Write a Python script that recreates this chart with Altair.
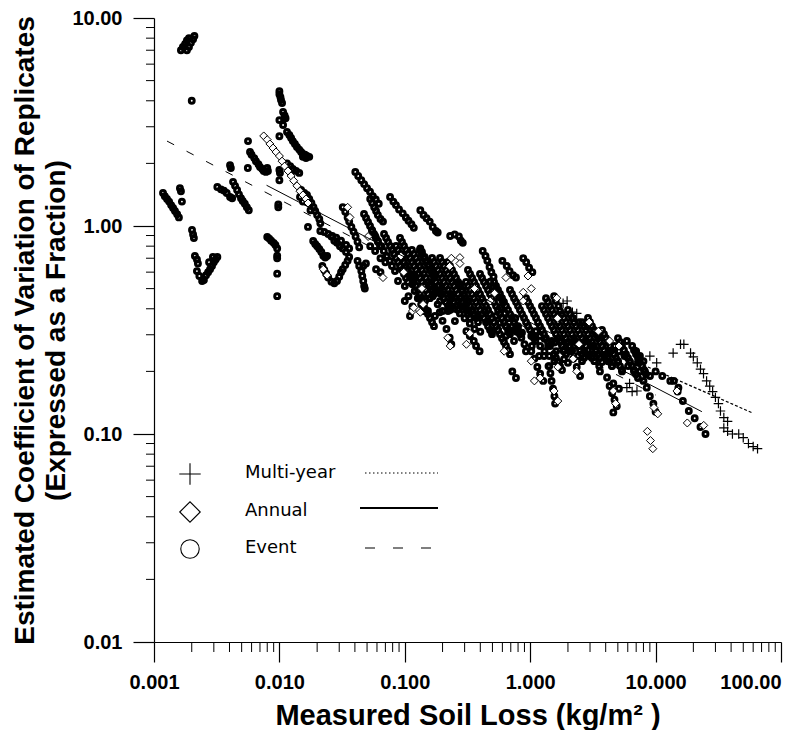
import json
import altair as alt
import pandas as pd

# ---------------- data ----------------
event_points = [
    (0.00164, 7.0), (0.0017, 7.25), (0.00177, 7.5), (0.00183, 7.8), (0.0019, 8.0),
    (0.00183, 7.0), (0.0019, 7.25), (0.00197, 7.6), (0.00205, 7.9), (0.0021, 8.2),
    (0.002, 4.0),
    (0.00118, 1.44), (0.00122, 1.39), (0.00127, 1.35), (0.00132, 1.31), (0.00137, 1.26),
    (0.00142, 1.22), (0.00147, 1.18), (0.00153, 1.14), (0.00158, 1.10),
    (0.00161, 1.52), (0.00164, 1.47), (0.00167, 1.31),
    (0.00201, 0.957), (0.00205, 0.91), (0.00208, 0.876),
    (0.00212, 0.717), (0.0022, 0.69), (0.00224, 0.66), (0.0022, 0.607), (0.0023, 0.575),
    (0.00242, 0.544), (0.0025, 0.55), (0.0026, 0.58), (0.0027, 0.60), (0.0028, 0.62),
    (0.0029, 0.642), (0.003, 0.67), (0.0031, 0.69), (0.0032, 0.71), (0.00295, 0.71), (0.00275, 0.67),
    (0.00404, 1.96), (0.0041, 1.9),
    (0.0032, 1.54), (0.00342, 1.5), (0.00361, 1.48), (0.0038, 1.44), (0.00404, 1.38), (0.0042, 1.36),
    (0.00427, 1.63), (0.00443, 1.56), (0.0046, 1.49), (0.00476, 1.42), (0.00494, 1.36),
    (0.0051, 1.32), (0.0053, 1.28), (0.0055, 1.23), (0.0057, 1.19),
    (0.00562, 2.56), (0.00583, 2.27), (0.006, 2.2), (0.0063, 2.12), (0.0065, 2.05), (0.0068, 1.98),
    (0.007, 1.92), (0.0073, 1.88), (0.0075, 1.84), (0.0078, 1.82), (0.0081, 1.84), (0.008, 1.9),
    (0.0056, 1.9),
    (0.01, 4.45), (0.01, 4.3), (0.0102, 4.16), (0.0103, 4.03), (0.0105, 3.9), (0.0107, 3.53),
    (0.011, 3.4), (0.0112, 3.3), (0.01, 3.23), (0.0107, 3.06), (0.01, 2.7), (0.01, 1.86),
    (0.0101, 1.8), (0.01, 1.66), (0.0098, 1.23), (0.0098, 1.27),
    (0.008, 0.885), (0.0083, 0.87), (0.0086, 0.85), (0.009, 0.83), (0.0093, 0.81), (0.0096, 0.78),
    (0.0096, 0.72), (0.0096, 0.70), (0.0096, 0.59), (0.0096, 0.46),
    (0.0115, 2.83), (0.012, 2.74), (0.0124, 2.65), (0.0128, 2.56), (0.0133, 2.48), (0.0138, 2.4),
    (0.0144, 2.33), (0.0149, 2.27), (0.0154, 2.22), (0.016, 2.2), (0.0166, 2.17), (0.0173, 2.15),
    (0.0163, 2.12), (0.0154, 2.15),
    (0.0115, 2.0), (0.0122, 1.94), (0.0128, 1.88), (0.0136, 1.84), (0.0144, 1.8),
    (0.0166, 1.41), (0.0173, 1.35), (0.018, 1.29), (0.0187, 1.23), (0.0193, 1.18), (0.02, 1.13),
    (0.0208, 1.08), (0.0212, 1.03), (0.0177, 1.19), (0.0169, 0.99),
    (0.0186, 0.847), (0.0193, 0.82), (0.02, 0.8), (0.0208, 0.775), (0.0216, 0.75), (0.0224, 0.72),
    (0.0232, 0.705), (0.024, 0.717),
    (0.0212, 0.946), (0.0228, 0.935), (0.0245, 0.915), (0.0264, 0.895), (0.0284, 0.878),
    (0.026, 0.89), (0.0274, 0.85), (0.0288, 0.83), (0.0304, 0.80), (0.032, 0.78), (0.034, 0.75),
    (0.036, 0.78), (0.034, 0.81), (0.031, 0.85),
    (0.022, 0.642), (0.0228, 0.614), (0.0236, 0.59), (0.0245, 0.565), (0.026, 0.54), (0.0274, 0.53),
    (0.0288, 0.544), (0.03, 0.57), (0.031, 0.6), (0.032, 0.62), (0.0335, 0.65), (0.035, 0.68), (0.036, 0.71),
    (0.032, 1.23), (0.0335, 1.17), (0.035, 1.1), (0.036, 1.05), (0.0375, 0.99), (0.039, 0.94),
    (0.0405, 0.89), (0.042, 0.84), (0.0433, 0.79),
    (0.042, 0.68), (0.0433, 0.642), (0.045, 0.607), (0.0458, 0.575), (0.0466, 0.544), (0.0474, 0.514),
    (0.048, 0.5), (0.0466, 0.642), (0.049, 0.66),
    (0.053, 1.35), (0.055, 1.29), (0.057, 1.23), (0.059, 1.18), (0.061, 1.13), (0.064, 1.08), (0.067, 1.05),
    (0.0403, 1.82), (0.0425, 1.74), (0.045, 1.66), (0.0474, 1.59), (0.05, 1.52), (0.0528, 1.46),
    (0.0556, 1.39), (0.0587, 1.34), (0.062, 1.28),
    (0.0149, 1.49), (0.0158, 1.44), (0.0163, 1.36), (0.0146, 1.38), (0.0154, 1.31),
    (0.0763, 1.38), (0.081, 1.31), (0.085, 1.26), (0.09, 1.2), (0.0963, 1.15), (0.102, 1.1),
    (0.107, 1.06), (0.113, 1.02), (0.118, 0.98),
    (0.133, 1.19), (0.141, 1.13), (0.149, 1.09), (0.158, 1.05), (0.167, 0.99), (0.177, 0.946), (0.183, 0.93),
    (0.23, 0.895), (0.25, 0.91), (0.27, 0.89), (0.28, 0.85), (0.29, 0.83),
    (0.133, 0.78), (0.137, 0.75), (0.144, 0.71), (0.149, 0.68), (0.155, 0.65), (0.16, 0.62),
    (0.167, 0.6), (0.173, 0.575),
    (0.055, 0.946), (0.058, 0.895), (0.061, 0.847), (0.065, 0.80), (0.068, 0.758), (0.072, 0.717),
    (0.076, 0.68), (0.079, 0.642), (0.07, 0.67), (0.064, 0.70), (0.058, 0.758), (0.053, 0.80),
    (0.059, 0.62), (0.064, 0.6),
    (0.418, 0.758), (0.44, 0.717), (0.455, 0.68), (0.474, 0.635), (0.49, 0.6), (0.51, 0.57),
    (0.6, 0.68), (0.65, 0.642), (0.685, 0.607), (0.73, 0.58), (0.77, 0.565),
    (0.88, 0.70), (0.93, 0.67), (0.98, 0.63), (1.04, 0.6),
    (0.48, 0.54), (0.51, 0.51), (0.54, 0.48), (0.57, 0.455), (0.6, 0.436),
    (0.275, 0.525), (0.287, 0.487), (0.30, 0.45), (0.31, 0.42), (0.323, 0.39), (0.33, 0.36),
    (1.55, 0.46), (1.6, 0.436), (1.68, 0.412), (1.73, 0.39),
    (0.093, 0.717), (0.098, 0.67), (0.103, 0.614), (0.11, 0.57), (0.115, 0.525), (0.12, 0.487),
    (0.127, 0.45), (0.135, 0.42), (0.14, 0.39), (0.107, 0.46), (0.1, 0.514), (0.115, 0.41),
    (0.16, 0.525), (0.173, 0.5), (0.19, 0.475), (0.205, 0.45), (0.228, 0.42), (0.25, 0.4),
    (0.275, 0.38), (0.3, 0.36), (0.33, 0.34), (0.36, 0.32), (0.4, 0.31), (0.167, 0.46),
    (0.183, 0.42), (0.2, 0.39), (0.187, 0.514), (0.205, 0.487), (0.236, 0.46),
    (0.19, 0.385), (0.2, 0.35), (0.215, 0.32), (0.228, 0.29), (0.235, 0.27),
    (0.31, 0.312), (0.33, 0.296), (0.355, 0.28), (0.37, 0.265), (0.395, 0.25),
    (0.58, 0.405), (0.625, 0.38), (0.67, 0.36), (0.72, 0.33), (0.78, 0.31), (0.85, 0.29),
    (0.9, 0.27), (0.64, 0.33), (0.76, 0.36),
    (1.02, 0.296), (1.1, 0.28), (1.2, 0.265), (1.3, 0.25), (1.42, 0.237), (1.56, 0.224),
    (1.7, 0.212), (1.85, 0.25), (2.05, 0.265), (2.25, 0.28), (2.45, 0.265), (2.7, 0.25),
    (2.95, 0.237), (3.25, 0.224), (3.55, 0.212), (3.9, 0.237), (4.3, 0.25), (4.7, 0.265),
    (5.1, 0.25), (5.65, 0.237), (6.2, 0.224), (1.3, 0.287), (1.56, 0.275), (1.18, 0.237), (1.4, 0.212),
    (2.2, 0.36), (2.45, 0.345), (2.85, 0.33), (3.25, 0.312), (3.6, 0.296),
    (5.9, 0.28), (6.5, 0.265), (7.0, 0.25), (7.5, 0.237), (8.0, 0.224),
    (1.02, 0.25), (1.08, 0.23), (1.14, 0.21), (1.2, 0.195), (1.27, 0.18),
    (1.42, 0.212), (1.45, 0.196), (1.48, 0.18), (1.52, 0.165), (1.56, 0.152), (1.58, 0.14),
    (1.95, 0.275), (2.05, 0.25), (2.2, 0.23), (2.35, 0.21), (2.5, 0.19),
    (0.72, 0.2), (0.77, 0.186),
    (3.6, 0.2), (4.1, 0.187), (4.6, 0.175), (5.1, 0.165),
    (4.3, 0.17), (4.5, 0.157), (4.7, 0.146), (4.9, 0.136), (4.6, 0.127),
    (7.5, 0.2), (8.0, 0.18), (8.5, 0.167), (9.0, 0.152), (9.6, 0.14), (10.0, 0.128),
    (10.0, 0.2), (11.3, 0.19), (13.1, 0.18), (15.2, 0.167),
    (16.5, 0.144), (18.4, 0.129), (20.5, 0.119), (22.8, 0.108), (25.0, 0.1),
    (14.0, 0.18), (15.0, 0.16),
    (0.0835, 0.607), (0.0883, 0.544), (0.1, 0.436), (0.11, 0.369), (0.12, 0.575), (0.145, 0.436),
    (0.153, 0.39), (0.174, 0.369), (0.191, 0.436), (0.221, 0.39), (0.251, 0.349), (0.266, 0.436),
    (0.286, 0.412), (0.319, 0.436), (0.344, 0.39), (0.384, 0.369), (0.436, 0.39), (0.46, 0.349),
    (0.496, 0.312), (0.534, 0.369), (0.574, 0.342), (0.64, 0.296), (0.69, 0.312), (0.743, 0.28),
    (0.80, 0.33), (0.86, 0.307), (0.925, 0.25), (1.03, 0.265), (1.11, 0.312), (1.2, 0.296),
    (1.29, 0.237), (1.39, 0.265), (1.49, 0.28), (1.61, 0.25), (1.73, 0.28), (1.86, 0.229),
    (2.0, 0.22), (2.15, 0.25), (2.41, 0.237), (2.59, 0.224), (2.79, 0.28), (3.11, 0.265),
    (3.35, 0.25), (3.74, 0.265), (4.17, 0.224), (4.49, 0.212), (5.01, 0.224), (5.4, 0.2),
    (6.03, 0.212), (6.73, 0.2), (7.24, 0.22), (8.23, 0.2), (9.02, 0.19),
]

# densely packed runs of event circles in the central band (x values, y values)
event_runs = [
    ([.0683, .0709, .0735, .0763, .0791, .0821, .0851, .0883, .0916, .095, .0985, .1022, .106],
     [.915, .876, .838, .802, .767, .734, .702, .671, .642, .614, .588, .562, .538]),
    ([.0851, .0883, .0916, .095, .0985, .1022, .106, .11, .114, .1183, .123, .1274, .132, .137],
     [.802, .767, .734, .702, .671, .642, .614, .588, .562, .538, .515, .492, .471, .45]),
    ([.114, .1183, .123, .1274, .132, .137, .142, .1474, .153, .1587, .165, .1709],
     [.767, .734, .702, .671, .642, .614, .588, .562, .538, .515, .492, .471]),
    ([.165, .1709, .177, .1839, .191, .198, .205, .2129, .221, .2293, .238, .2468, .256, .2658],
     [.702, .671, .642, .614, .588, .562, .538, .515, .492, .471, .45, .431, .412, .395]),
    ([.221, .2293, .238, .2468, .256, .2658, .276, .2863, .297, .308, .319, .3313, .344, .3567, .37, .3838],
     [.671, .642, .614, .588, .562, .538, .515, .492, .471, .45, .431, .412, .395, .377, .361, .345]),
    ([.132, .137, .142, .1474, .153, .1587, .165, .1709],
     [.45, .431, .412, .395, .377, .361, .345, .33]),
    ([.308, .319, .3313, .344, .3567, .37, .3838, .398, .4128, .428, .4442, .461, .4782, .496],
     [.538, .515, .492, .471, .45, .431, .412, .395, .377, .361, .345, .33, .316, .302]),
    ([.5147, .534, .5537, .574, .5957, .618, .6411, .665, .69, .716, .7429, .771, .7995, .829],
     [.538, .515, .492, .471, .45, .431, .412, .395, .377, .361, .345, .33, .316, .302]),
    ([.69, .716, .7429, .771, .7995, .829, .8604, .893, .9264, .961, .9969, 1.034, 1.0728],
     [.492, .471, .45, .431, .412, .395, .377, .361, .345, .33, .316, .302, .289]),
    ([.9264, .961, .9969, 1.034, 1.0728, 1.113, 1.1543, 1.197, 1.2417, 1.288, 1.3366, 1.387, 1.4386],
     [.45, .431, .412, .395, .377, .361, .345, .33, .316, .302, .289, .277, .265]),
    ([.5537, .574, .5957, .618, .6411, .665, .69],
     [.316, .302, .289, .277, .265, .253, .242]),
    ([1.2417, 1.288, 1.3366, 1.387, 1.4386, 1.492, 1.548, 1.606, 1.6664, 1.729, 1.7933, 1.86, 1.9297],
     [.412, .395, .377, .361, .345, .33, .316, .302, .289, .277, .265, .253, .242]),
    ([1.7933, 1.86, 1.9297, 2.002, 2.0767, 2.154, 2.235, 2.319, 2.4054, 2.495, 2.5883, 2.685],
     [.377, .361, .345, .33, .316, .302, .289, .277, .265, .253, .242, .232]),
    ([2.5883, 2.685, 2.7856, 2.89, 2.998, 3.11, 3.2263, 3.347, 3.4722, 3.602, 3.7369],
     [.345, .33, .316, .302, .289, .277, .265, .253, .242, .232, .222]),
    ([1.548, 1.606, 1.6664, 1.729, 1.7933],
     [.242, .232, .222, .212, .203]),
    ([3.7369, 3.877, 4.0218, 4.172, 4.3281, 4.49, 4.6578, 4.832, 5.0131, 5.201, 5.3953],
     [.316, .302, .289, .277, .265, .253, .242, .232, .222, .212, .203]),
    ([5.0131, 5.201, 5.3953, 5.597, 5.8063, 6.023, 6.2484, 6.482, 6.7245, 6.976, 7.2371],
     [.289, .277, .265, .253, .242, .232, .222, .212, .203, .194, .186]),
    ([6.7245, 6.976, 7.2371, 7.508, 7.7887, 8.08, 8.3817],
     [.253, .242, .232, .222, .212, .203, .194]),
    ([.0473, .0491, .0509, .0528, .0547, .0568, .0589, .0611, .0634],
     [1.142, 1.093, 1.045, 1.0, .957, .915, .876, .838, .802]),
    ([.0916, .095, .0985, .1022, .106, .11, .114, .1183, .123, .1274, .132, .137, .142, .1474, .153, .1587],
     [.876, .838, .802, .767, .734, .702, .671, .642, .614, .588, .562, .538, .515, .492, .471, .45]),
    ([.132, .137, .142, .1474, .153, .1587, .165, .1709, .177, .1839, .191, .198, .205, .2129, .221, .2293],
     [.767, .734, .702, .671, .642, .614, .588, .562, .538, .515, .492, .471, .45, .431, .412, .395]),
    ([.191, .198, .205, .2129, .221, .2293, .238, .2468, .256, .2658, .276, .2863, .297, .308, .319, .3313],
     [.702, .671, .642, .614, .588, .562, .538, .515, .492, .471, .45, .431, .412, .395, .377, .361]),
    ([.319, .3313, .344, .3567, .37, .3838, .398, .4128, .428, .4442, .461, .4782, .496, .5147, .534, .5537],
     [.614, .588, .562, .538, .515, .492, .471, .45, .431, .412, .395, .377, .361, .345, .33, .316]),
    ([.398, .4128, .428, .4442, .461, .4782, .496, .5147, .534, .5537, .574, .5957, .618, .6411, .665, .69],
     [.588, .562, .538, .515, .492, .471, .45, .431, .412, .395, .377, .361, .345, .33, .316, .302]),
    ([1.3366, 1.387, 1.4386, 1.492, 1.548, 1.606, 1.6664, 1.729, 1.7933, 1.86, 1.9297, 2.002, 2.0767, 2.154],
     [.45, .431, .412, .395, .377, .361, .345, .33, .316, .302, .289, .277, .265, .253]),
    ([2.002, 2.0767, 2.154, 2.235, 2.319, 2.4054, 2.495, 2.5883, 2.685, 2.7856, 2.89, 2.998, 3.11],
     [.395, .377, .361, .345, .33, .316, .302, .289, .277, .265, .253, .242, .232]),
    ([2.89, 2.998, 3.11, 3.2263, 3.347, 3.4722, 3.602, 3.7369, 3.877, 4.0218, 4.172, 4.3281, 4.49],
     [.361, .345, .33, .316, .302, .289, .277, .265, .253, .242, .232, .222, .212]),
]

annual_points = [
    (0.0075, 2.71), (0.008, 2.6), (0.0084, 2.48), (0.0089, 2.37), (0.0094, 2.27), (0.01, 2.17),
    (0.0105, 2.05), (0.011, 1.94), (0.0117, 1.84), (0.0124, 1.74), (0.013, 1.65), (0.0138, 1.56),
    (0.0146, 1.47), (0.0154, 1.41), (0.0163, 1.35), (0.0169, 1.29),
    (0.035, 1.23), (0.0365, 1.1), (0.051, 0.89),
    (0.093, 0.717), (0.098, 0.6), (0.067, 0.565),
    (0.137, 0.5), (0.14, 0.42), (0.115, 0.39), (0.133, 0.385),
    (0.235, 0.7), (0.275, 0.705), (0.228, 0.64), (0.275, 0.66),
    (0.64, 0.565), (0.88, 0.48), (0.88, 0.436), (0.96, 0.575), (1.02, 0.5),
    (1.63, 0.45), (1.65, 0.36),
    (0.36, 0.5), (0.52, 0.475), (0.48, 0.436),
    (0.23, 0.265), (0.22, 0.29), (0.33, 0.305),
    (0.118, 0.405), (0.31, 0.27), (0.62, 0.25), (1.08, 0.18), (1.2, 0.186), (1.02, 0.224),
    (1.66, 0.21), (1.55, 0.161), (1.66, 0.144), (2.2, 0.23), (2.35, 0.2), (2.45, 0.27),
    (4.6, 0.161), (4.8, 0.14), (8.6, 0.103), (9.1, 0.093), (9.5, 0.085), (10.4, 0.125),
    (17.9, 0.113), (24.2, 0.11), (14.8, 0.161), (9.7, 0.134),
    (0.0224, 0.62), (0.024, 0.58),
    (2.95, 0.345), (3.5, 0.312), (4.3, 0.28), (5.1, 0.265),
]

multiyear_points = [
    (1.83, 0.425), (1.97, 0.436), (2.17, 0.385), (2.35, 0.38),
    (5.9, 0.167), (6.5, 0.16), (7.1, 0.161), (6.2, 0.175),
    (13.8, 0.245), (15.8, 0.27), (16.8, 0.27), (19.0, 0.245),
    (20.0, 0.235), (21.5, 0.22), (22.8, 0.205), (24.1, 0.195), (25.5, 0.18), (27.0, 0.17),
    (28.5, 0.16), (30.0, 0.15), (31.7, 0.14),
    (32.9, 0.129), (35.0, 0.12), (37.5, 0.115),
    (35.0, 0.107), (37.5, 0.103), (41.0, 0.1), (46.0, 0.1), (50.0, 0.096), (55.0, 0.09),
    (60.0, 0.087), (65.0, 0.085),
    (9.0, 0.237), (10.2, 0.22),
]

# regression lines (end points)
fit_multiyear_x = [3.17, 59.8]
fit_multiyear_y = [0.274, 0.126]
fit_annual_x = [0.0079, 23.4]
fit_annual_y = [1.57, 0.128]
fit_event_x = [0.00127, 10.0]
fit_event_y = [2.56, 0.154]

legend_labels = ["Multi-year", "Annual", "Event"]

x_major = [0.001, 0.01, 0.1, 1, 10, 100]
x_major_labels = ["0.001", "0.010", "0.100", "1.000", "10.000", "100.00"]
y_major = [0.01, 0.1, 1, 10]
y_major_labels = ["0.01", "0.10", "1.00", "10.00"]
x_minor = [m * 10.0 ** e for e in range(-3, 2) for m in range(2, 10)]
y_minor = [m * 10.0 ** e for e in range(-2, 1) for m in range(2, 10)]

# ---------------- chart ----------------
W, H = 627, 624
BOLD = "Liberation Sans"
LEG_FONT = "DejaVu Sans"

x_scale = alt.Scale(type="log", domain=[0.001, 100], nice=False)
y_scale = alt.Scale(type="log", domain=[0.01, 10], nice=False)

x_axis = alt.Axis(
    values=x_major,
    labelExpr=f"{json.dumps(x_major_labels)}[round(log(datum.value)/LN10) + 3]",
    tickSize=20, tickWidth=1.2, tickColor="black",
    domainColor="black", domainWidth=1.2,
    labelFont=BOLD, labelFontSize=20, labelFontWeight="bold", labelColor="black",
    labelBaseline="alphabetic", labelPadding=26, labelFlush=False, labelOverlap=False,
    labelBound=False,
    labelAlign={"condition": {"test": "datum.value >= 100", "value": "right"}, "value": "center"},
    title="Measured Soil Loss (kg/m² )", titleFont=BOLD, titleFontSize=29,
    titleFontWeight="bold", titleColor="black", titleBaseline="alphabetic", titleY=82,
    grid=False,
)
y_axis = alt.Axis(
    values=y_major,
    labelExpr=f"{json.dumps(y_major_labels)}[round(log(datum.value)/LN10) + 2]",
    tickSize=21, tickWidth=1.2, tickColor="black",
    domainColor="black", domainWidth=1.2,
    labelFont=BOLD, labelFontSize=20, labelFontWeight="bold", labelColor="black",
    labelPadding=11, labelBaseline="middle", labelFlush=False, labelOverlap=False,
    title=["Estimated Coefficient of Variation of Replicates", "(Expressed as a Fraction)"],
    titleFont=BOLD, titleFontSize=28, titleFontWeight="bold", titleColor="black",
    titleAngle=270, titleAlign="center", titleBaseline="alphabetic",
    titleX=-121, titleY=H / 2, titleLineHeight=31,
    grid=False,
)

X = alt.X("x:Q", scale=x_scale, axis=x_axis)
Y = alt.Y("y:Q", scale=y_scale, axis=y_axis)

def pts(points):
    return pd.DataFrame({"x": [p[0] for p in points], "y": [p[1] for p in points]})

all_event = list(event_points)
for xs, ys in event_runs:
    all_event += list(zip(xs, ys))

event_layer = alt.Chart(pts(all_event)).mark_point(
    shape="circle", filled=False, size=24, strokeWidth=3, color="black", opacity=1
).encode(x=X, y=Y)

annual_layer = alt.Chart(pts(annual_points)).mark_point(
    shape="diamond", filled=True, fill="white", stroke="black", strokeWidth=1,
    size=64, opacity=1
).encode(x=X, y=Y)

PLUS = "M-1,0L1,0M0,-1L0,1"
multi_layer = alt.Chart(pts(multiyear_points)).mark_point(
    shape=PLUS, filled=False, size=90, strokeWidth=1.2, color="black", opacity=1
).encode(x=X, y=Y)

def fit(xs, ys, dash, width):
    kw = dict(color="black", strokeWidth=width)
    if dash:
        kw["strokeDash"] = dash
    return alt.Chart(pd.DataFrame({"x": xs, "y": ys})).mark_line(**kw).encode(x=X, y=Y)

fit_multi = fit(fit_multiyear_x, fit_multiyear_y, [3, 2], 1.2)
fit_annual = fit(fit_annual_x, fit_annual_y, None, 1)
fit_event = fit(fit_event_x, fit_event_y, [8, 14], 1)

# minor ticks of the log axes
y_minor_ticks = alt.Chart(pd.DataFrame({"y": y_minor})).mark_rule(
    color="black", strokeWidth=1
).encode(y=Y, x=alt.value(-8), x2=alt.value(0))
x_minor_ticks = alt.Chart(pd.DataFrame({"x": x_minor})).mark_rule(
    color="black", strokeWidth=1
).encode(x=X, y=alt.value(H), y2=alt.value(H + 10))

# legend (inside the plot, lower left)
one = pd.DataFrame({"k": [0]})
sym_x, txt_x = 36, 91
rows_y = [456, 494, 531]
legend_layers = []
legend_layers.append(alt.Chart(one).mark_point(
    shape=PLUS, size=460, filled=False, color="black", strokeWidth=1.1, opacity=1
).encode(x=alt.value(sym_x), y=alt.value(rows_y[0])))
legend_layers.append(alt.Chart(one).mark_point(
    shape="diamond", size=420, filled=False, color="black", strokeWidth=1.1, opacity=1
).encode(x=alt.value(sym_x), y=alt.value(rows_y[1])))
legend_layers.append(alt.Chart(one).mark_point(
    shape="circle", size=340, filled=False, color="black", strokeWidth=1.1, opacity=1
).encode(x=alt.value(sym_x), y=alt.value(rows_y[2])))
for lab, yy in zip(legend_labels, rows_y):
    legend_layers.append(alt.Chart(one).mark_text(
        text=lab, font=LEG_FONT, fontSize=18, align="left",
        baseline="middle", color="black"
    ).encode(x=alt.value(txt_x), y=alt.value(yy - 1)))
legend_layers.append(alt.Chart(one).mark_rule(color="black", strokeWidth=1, strokeDash=[1.5, 2.5]).encode(
    x=alt.value(211), x2=alt.value(284), y=alt.value(455)))
legend_layers.append(alt.Chart(one).mark_rule(color="black", strokeWidth=2).encode(
    x=alt.value(206), x2=alt.value(284), y=alt.value(490)))
legend_layers.append(alt.Chart(one).mark_rule(color="black", strokeWidth=1.2, strokeDash=[10, 18]).encode(
    x=alt.value(211), x2=alt.value(290), y=alt.value(530)))

chart = alt.layer(
    event_layer, annual_layer, multi_layer, fit_event, fit_annual, fit_multi,
    y_minor_ticks, x_minor_ticks, *legend_layers
).properties(
    width=W, height=H,
    autosize=alt.AutoSizeParams(type="none"),
    padding={"left": 146, "top": 10, "right": 20, "bottom": 88},
    background="white",
).configure_view(stroke=None)

chart.save("out.html", embed_options={"renderer": "svg", "actions": False})
